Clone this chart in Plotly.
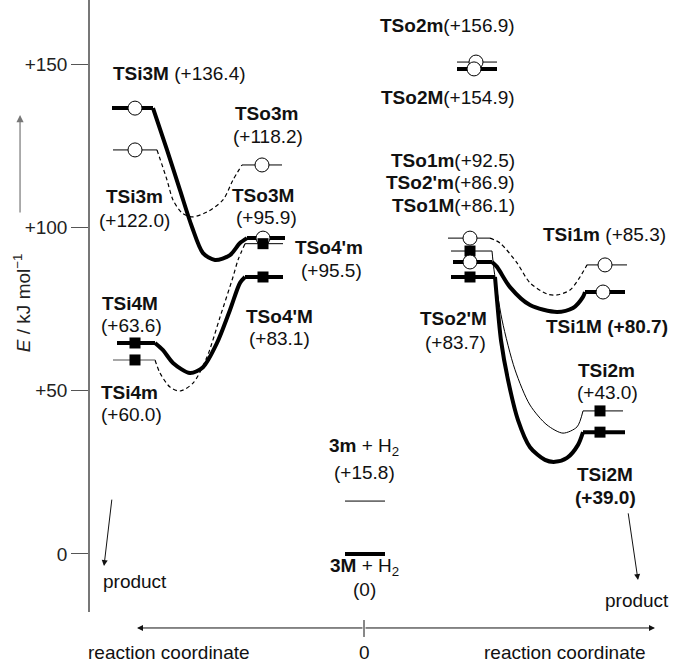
import plotly.graph_objects as go

FONT = "Liberation Sans, Arial, Helvetica, sans-serif"
FS = 19

# ---------------- data (energies as drawn, kJ/mol; reaction coordinate arbitrary units) -------------
level_names = ["TSi3M", "TSi3m", "TSo3m", "TSo3M", "TSo4'm", "TSo4'M", "TSi4M", "TSi4m",
               "TSo2m", "TSo2M", "TSo1m", "TSo2'm", "TSo1M", "TSo2'M",
               "TSi1m", "TSi1M", "TSi2m", "TSi2M", "3m", "3M"]
level_E = [136.5, 123.7, 119.1, 96.7, 95.0, 84.8, 64.6, 59.4,
           150.6, 148.5, 96.7, 92.75, 89.4, 84.8,
           88.5, 80.2, 43.8, 37.3, 16.2, 0.0]
level_x_start = [-252, -251, -122, -117, -119, -119, -247, -251,
                 93, 93, 84, 87, 89, 87,
                 223, 221, 219, 219, -19, -19]
level_x_end = [-211, -207, -82, -79, -81, -81, -209, -209,
               133, 133, 126, 128, 128, 131,
               263, 261, 259, 261, 21, 21]
level_x_mark = [-229, -229, -102, -101, -101, -101, -229, -229,
                112, 110, 106, 106, 106, 106,
                241, 239, 236, 236, None, None]
level_kind = ["thick", "thin", "thin", "thick", "thin", "thick", "thick", "gray",
              "thin", "thick", "thin", "thin", "thick", "thick",
              "thin", "thick", "thin", "thick", "thin", "thick"]
level_marker = ["circle", "circle", "circle", "circle", "square", "square", "square", "square",
                "circle", "circle", "circle", "square", "circle", "square",
                "circle", "circle", "square", "square", None, None]

# connecting curves
curves = {
    "3M": dict(kind="thick",
               x=[-211, -197, -184, -172, -161, -149, -134, -124, -117],
               E=[136.5, 123.7, 111.4, 100.1, 92.1, 90.0, 91.5, 95.2, 96.7]),
    "3m": dict(kind="dash",
               x=[-207, -197, -191, -182, -172, -157, -141, -131, -122],
               E=[123.7, 114.5, 108.4, 104.4, 103.2, 104.7, 108.4, 114.5, 119.1]),
    "4M": dict(kind="thick",
               x=[-209, -201, -191, -174, -161, -147, -134, -124, -119],
               E=[64.6, 62.4, 58.5, 55.4, 57.2, 64.6, 74.7, 83.0, 84.8]),
    "4m": dict(kind="dash",
               x=[-209, -204, -194, -184, -171, -157, -144, -131, -126, -119],
               E=[59.4, 55.4, 51.1, 49.9, 52.3, 60.3, 72.5, 84.8, 90.0, 95.0]),
    "1m": dict(kind="dash",
               x=[126, 136, 153, 166, 183, 193, 206, 216, 223],
               E=[96.7, 95.2, 89.1, 83.0, 79.6, 79.3, 80.8, 84.8, 88.5]),
    "1M": dict(kind="thick",
               x=[128, 133, 146, 166, 193, 209, 219, 221],
               E=[89.4, 87.9, 81.7, 76.2, 74.1, 75.3, 78.7, 80.2]),
    "2m": dict(kind="thin",
               x=[128, 130, 138, 151, 166, 183, 199, 213, 219],
               E=[92.75, 87.0, 71.7, 56.4, 45.6, 39.5, 37.0, 38.9, 43.8]),
    "2M": dict(kind="thick",
               x=[131, 133, 137, 144, 154, 166, 181, 191, 203, 214, 219],
               E=[84.8, 77.7, 65.4, 53.3, 41.0, 32.7, 28.8, 28.2, 29.4, 33.4, 37.3]),
}

# text labels: (text, x, E, xanchor)
labels = [
    ("<b>TSi3M</b> (+136.4)", -185, 147.2, "center"),
    ("<b>TSi3m</b>", -230, 109.3, "center"), ("(+122.0)", -230, 102.2, "center"),
    ("<b>TSo3m</b>", -98, 135.0, "center"), ("(+118.2)", -96, 127.7, "center"),
    ("<b>TSo3M</b>", -101, 109.9, "center"), ("(+95.9)", -98, 102.9, "center"),
    ("<b>TSo4'm</b>", -35, 93.7, "center"), ("(+95.5)", -33, 86.9, "center"),
    ("<b>TSo4'M</b>", -85, 72.6, "center"), ("(+83.1)", -85, 66.1, "center"),
    ("<b>TSi4M</b>", -234, 76.8, "center"), ("(+63.6)", -233, 70.1, "center"),
    ("<b>TSi4m</b>", -235, 49.3, "center"), ("(+60.0)", -233, 42.6, "center"),
    ("<b>TSo2m</b>(+156.9)", 153, 161.9, "right"),
    ("<b>TSo2M</b>(+154.9)", 153, 139.9, "right"),
    ("<b>TSo1m</b>(+92.5)", 153, 120.6, "right"),
    ("<b>TSo2'm</b>(+86.9)", 153, 113.6, "right"),
    ("<b>TSo1M</b>(+86.1)", 153, 106.8, "right"),
    ("<b>TSi1m</b> (+85.3)", 240, 97.7, "center"),
    ("<b>TSi1M (+80.7)</b>", 243, 69.5, "center"),
    ("<b>TSo2'M</b>", 89, 72.2, "center"), ("(+83.7)", 91, 64.9, "center"),
    ("<b>TSi2m</b>", 242, 56.3, "center"), ("(+43.0)", 243, 49.3, "center"),
    ("<b>TSi2M</b>", 241, 24.2, "center"), ("<b>(+39.0)</b>", 241, 17.4, "center"),
    ("<b>3m</b> + H<sub>2</sub>", 0, 32.8, "center"), ("(+15.8)", 0, 25.1, "center"),
    ("<b>3M</b> + H<sub>2</sub>", 0, -4.0, "center"), ("(0)", 0, -11.0, "center"),
    ("product", -229, -8.3, "center"), ("product", 273, -14.1, "center"),
]

y_ticks = [0, 50, 100, 150]
y_tick_text = ["0", "+50", "+100", "+150"]
x_axis_labels = ["reaction coordinate", "0", "reaction coordinate"]
x_axis_label_x = [-195, 0, 201]

# ---------------- styles ----------------
STYLE = {
    "thick": dict(color="black", width=4),
    "thin": dict(color="black", width=1),
    "gray": dict(color="#8a8a8a", width=1.5),
    "dash": dict(color="black", width=1.2, dash="4px,3px"),
}

fig = go.Figure()

# curves
for key, c in curves.items():
    st = dict(STYLE[c["kind"]])
    st.update(shape="spline", smoothing=0.8)
    fig.add_trace(go.Scatter(x=c["x"], y=c["E"], mode="lines", line=st,
                             hoverinfo="skip", showlegend=False))

# levels
for i in range(len(level_names)):
    fig.add_trace(go.Scatter(x=[level_x_start[i], level_x_end[i]], y=[level_E[i], level_E[i]],
                             mode="lines", line=STYLE[level_kind[i]],
                             hoverinfo="skip", showlegend=False))

# markers
for i in range(len(level_names)):
    if level_marker[i] is None:
        continue
    if level_marker[i] == "circle":
        mk = dict(symbol="circle", size=14, color="white", line=dict(color="black", width=1))
    else:
        mk = dict(symbol="square", size=11, color="black", line=dict(color="black", width=0))
    fig.add_trace(go.Scatter(x=[level_x_mark[i]], y=[level_E[i]], mode="markers", marker=mk,
                             hoverinfo="skip", showlegend=False))

ann = []
for text, x, y, xa in labels:
    ann.append(dict(text=text, x=x, y=y, xref="x", yref="y", xanchor=xa, yanchor="middle",
                    showarrow=False, font=dict(family=FONT, size=FS, color="#111")))

# product arrows
ann.append(dict(x=-260, y=-3.7, ax=-252, ay=17.1, xref="x", yref="y", axref="x", ayref="y",
                text="", showarrow=True, arrowhead=2, arrowsize=1.2, arrowwidth=1, arrowcolor="#111"))
ann.append(dict(x=274, y=-8.0, ax=264, ay=12.9, xref="x", yref="y", axref="x", ayref="y",
                text="", showarrow=True, arrowhead=2, arrowsize=1.2, arrowwidth=1, arrowcolor="#111"))

# bottom double arrow (reaction coordinate)
ybot = -0.0261
ann.append(dict(x=-227, y=ybot, ax=0, ay=0, xref="x", yref="paper", axref="x", ayref="pixel",
                text="", showarrow=True, arrowhead=2, arrowsize=1.2, arrowwidth=1, arrowcolor="#111"))
ann.append(dict(x=291, y=ybot, ax=0, ay=0, xref="x", yref="paper", axref="x", ayref="pixel",
                text="", showarrow=True, arrowhead=2, arrowsize=1.2, arrowwidth=1, arrowcolor="#111"))
for t, x in zip(x_axis_labels, x_axis_label_x):
    ann.append(dict(text=t, x=x, y=-0.0654, xref="x", yref="paper", xanchor="center",
                    yanchor="middle", showarrow=False, font=dict(family=FONT, size=FS, color="#111")))

# y axis title and arrow
ann.append(dict(text="<i>E</i> / kJ mol<sup>−1</sup>", x=-0.1166, y=76.8, xref="paper", yref="y",
                textangle=-90, showarrow=False, xanchor="center", yanchor="middle",
                font=dict(family=FONT, size=FS, color="#222")))
ann.append(dict(x=-0.120, y=134.4, ax=0, ay=99, xref="paper", yref="y", axref="pixel",
                ayref="pixel", text="", showarrow=True, arrowhead=2, arrowsize=1.2, arrowwidth=1.2,
                arrowcolor="#777"))

shapes = [dict(type="line", xref="x", yref="paper", x0=0, x1=0, y0=-0.0131, y1=-0.0408,
               line=dict(color="#111", width=1))]

fig.update_layout(
    width=673, height=664,
    margin=dict(l=90, r=0, t=0, b=52),
    paper_bgcolor="white", plot_bgcolor="white",
    xaxis=dict(range=[-274, 309], visible=False, fixedrange=True),
    yaxis=dict(range=[-17.76, 169.6], showline=True, linecolor="#777", linewidth=1.5,
               ticks="outside", ticklen=17, tickwidth=1, tickcolor="#555",
               tickvals=y_ticks, ticktext=y_tick_text, showgrid=False, zeroline=False,
               tickfont=dict(family=FONT, size=FS, color="#222"), fixedrange=True),
    annotations=ann, shapes=shapes,
    font=dict(family=FONT, size=FS),
)

fig.write_html("out.html", config={"displayModeBar": False},
               post_script="document.body.style.margin='0';document.body.style.overflow='hidden';")
